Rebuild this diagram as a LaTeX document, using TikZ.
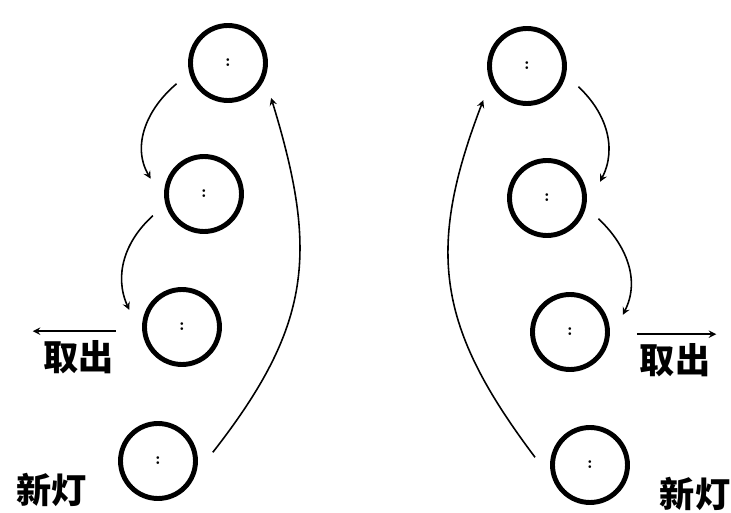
\documentclass[tikz,border=0pt]{standalone}
\usepackage{fontspec}
\newfontfamily\cjk{Noto Sans CJK SC}
\usepackage{tikz}
\usetikzlibrary{calc, positioning}

\begin{document}
\begin{tikzpicture}[>=stealth, x=0.02cm, y=-0.02cm,
    den/.style={circle, draw, line width=2.8pt, minimum size=1.5cm,
        inner sep=0pt, outer sep=0.36cm, font=\bfseries},
    nhan/.style={font=\cjk\bfseries\fontsize{20}{22}\selectfont, inner sep=1pt},
    cung/.style={->, line width=0.9pt}]
    \useasboundingbox (0,0) rectangle (731,513);

    % Bên trái: bốn đèn, đèn dưới cùng là đèn mới
    \node[den] (t1) at (228,63) {:};
    \node[den] (t2) at (204,194) {:};
    \node[den] (t3) at (182,327) {:};
    \node[den] (t4) at (158,461) {:};
    \draw[cung] (t1.202) to[out=220, in=120] (t2.164);
    \draw[cung] (t2.203) to[out=222, in=114] (t3.162);
    \draw[cung] (t4.9) to[out=52, in=-73, looseness=1.15] (t1.-39);   % đèn mới lên trên
    \node[nhan] (lay1) at (79,357) {取出};
    \draw[<-, line width=0.9pt] ($(lay1.north west)+(-9,-7)$) -- ($(lay1.north east)+(0,-7)$);
    \node[nhan] (moi1) at (52,490) {新灯};

    % Bên phải: đối xứng
    \node[den] (p1) at (527,66) {:};
    \node[den] (p2) at (547,198) {:};
    \node[den] (p3) at (570,332) {:};
    \node[den] (p4) at (590,465) {:};
    \draw[cung] (p1.-22) to[out=-43, in=63] (p2.17);
    \draw[cung] (p2.-22) to[out=-43, in=63] (p3.18);
    \draw[cung] (p4.172) to[out=127, in=249, looseness=1.15] (p1.218);  % đèn mới lên trên
    \node[nhan] (lay2) at (675,360) {取出};
    \draw[->, line width=0.9pt] ($(lay2.north west)+(-1,-7)$) -- ($(lay2.north east)+(4,-7)$);
    \node[nhan] (moi2) at (695,494) {新灯};
\end{tikzpicture}
\end{document}
